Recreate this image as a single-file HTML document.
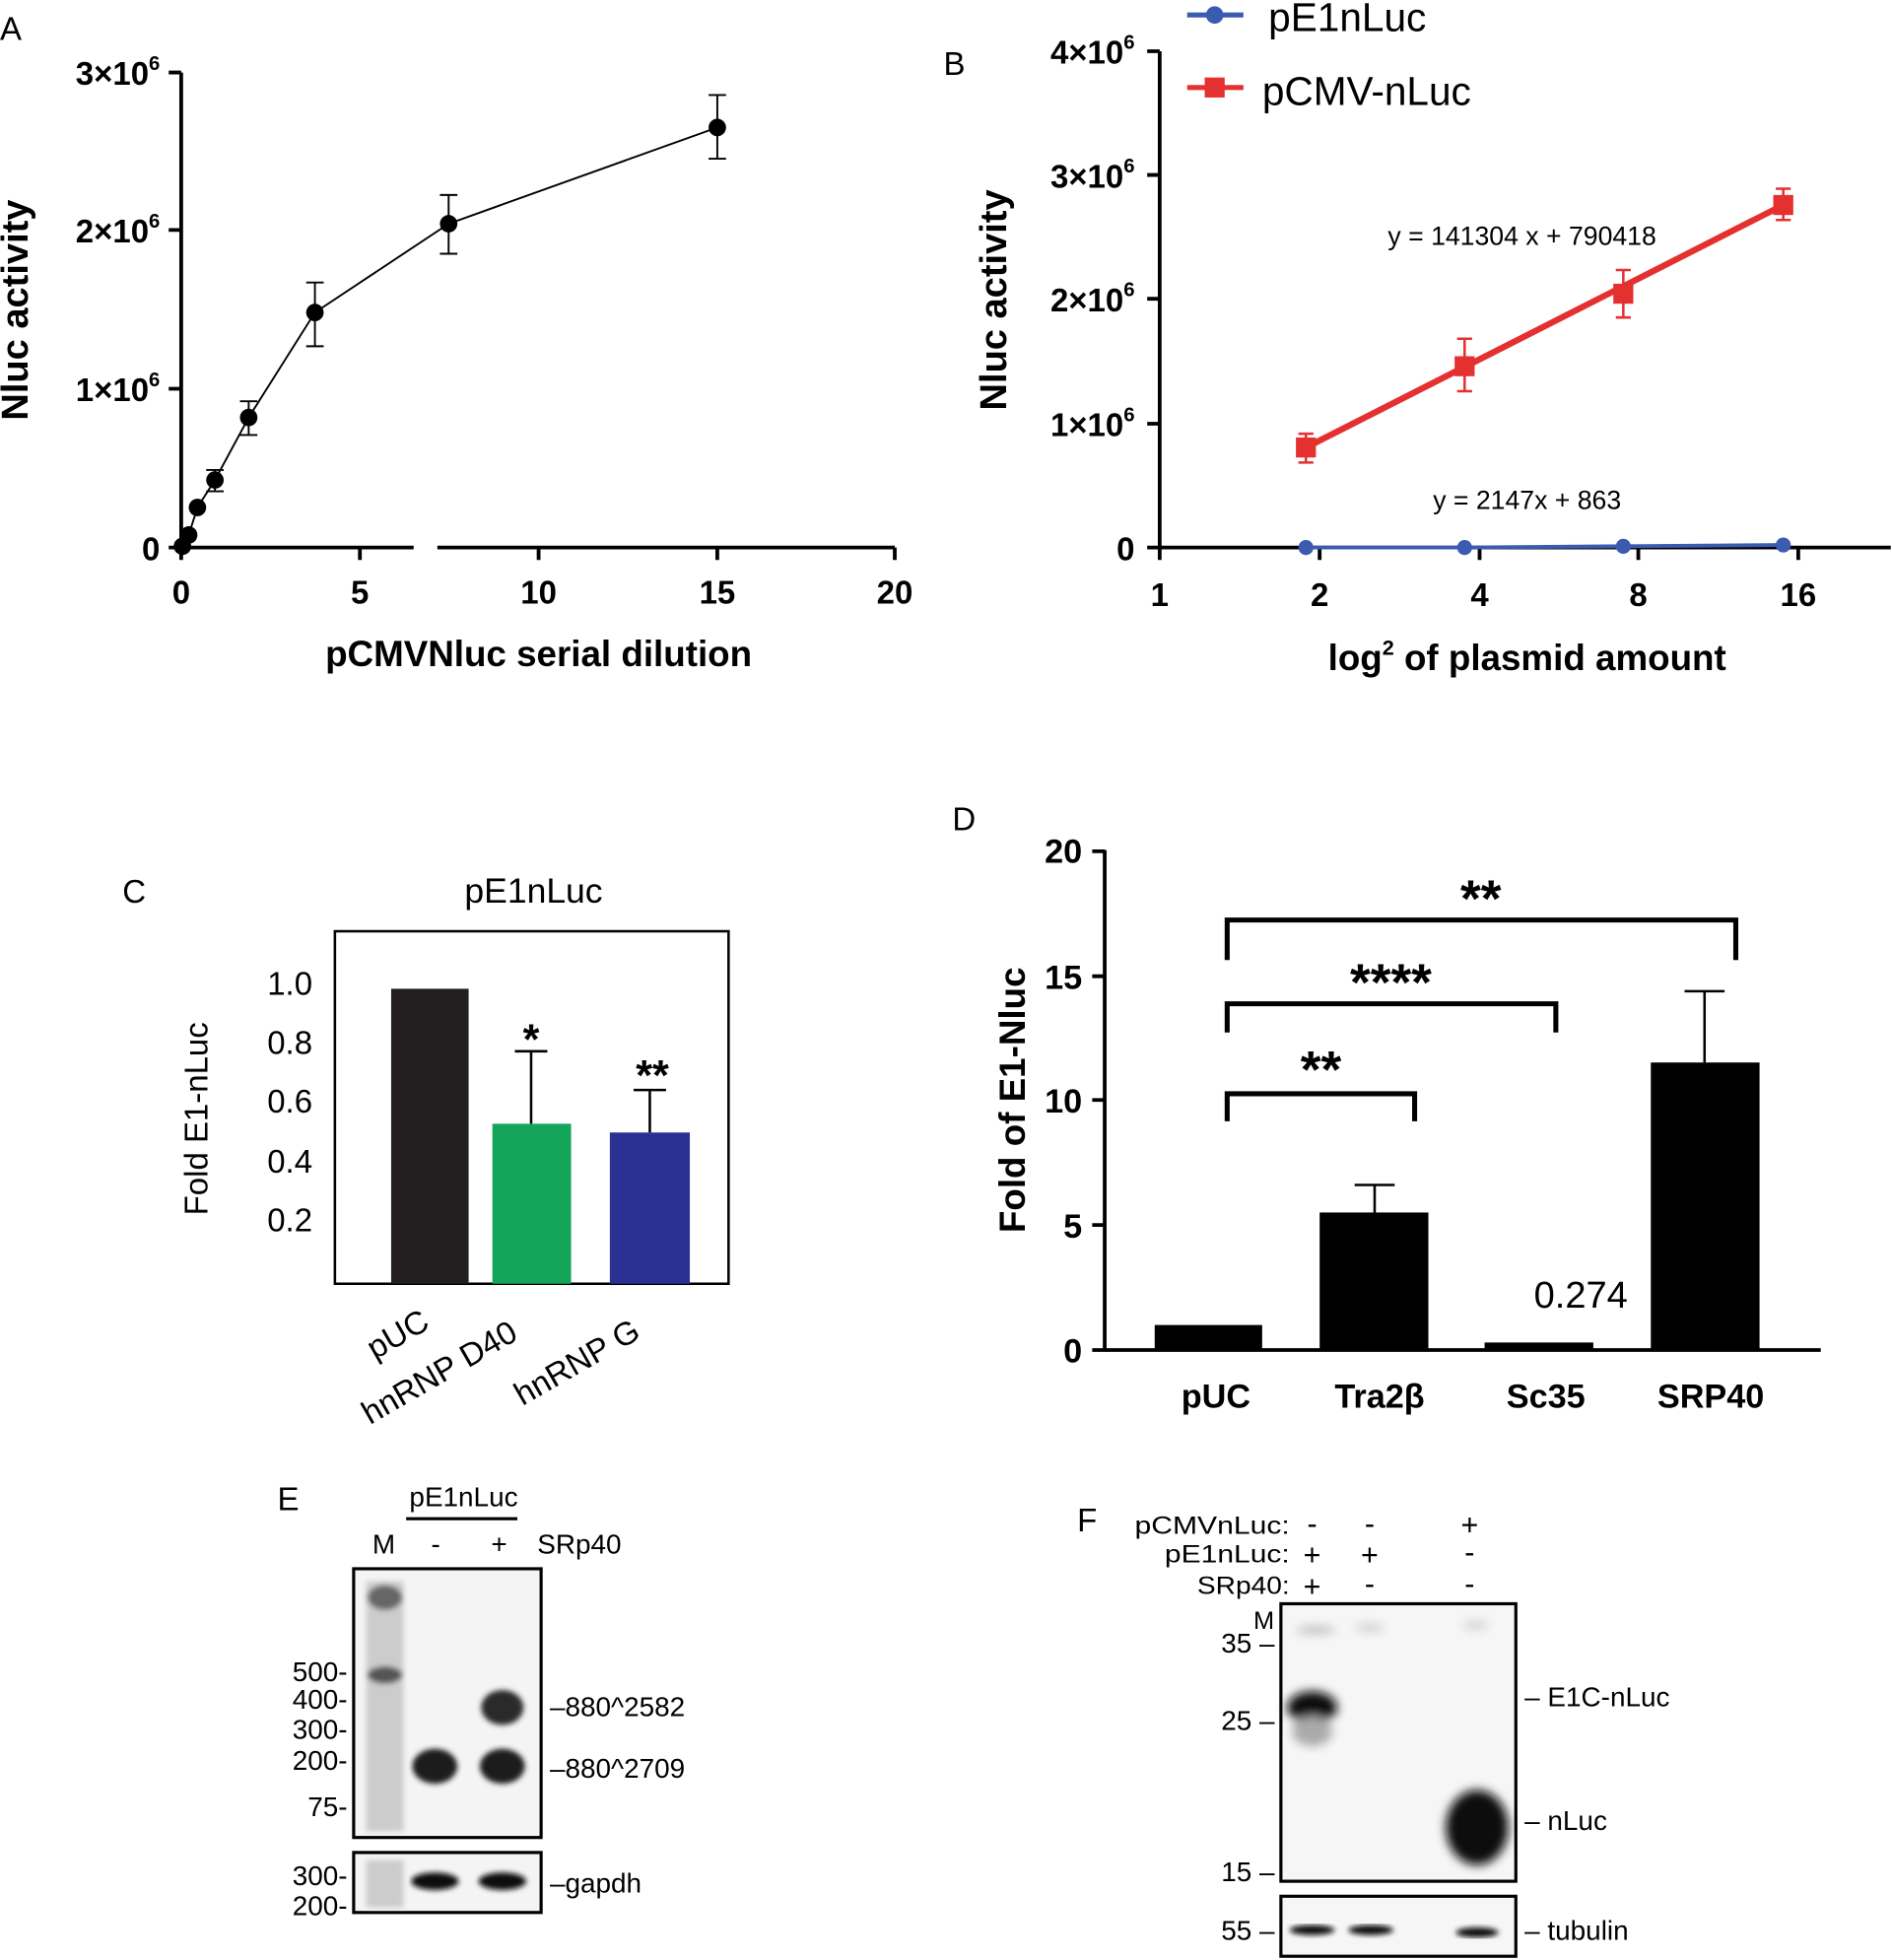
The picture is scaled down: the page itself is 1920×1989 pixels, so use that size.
<!DOCTYPE html>
<html><head><style>html,body{margin:0;padding:0;background:#fff}svg{display:block}</style></head>
<body>
<svg width="1920" height="1989" viewBox="0 0 1514 1568" preserveAspectRatio="none" xmlns="http://www.w3.org/2000/svg" font-family="Liberation Sans, sans-serif">
<defs>
<filter id="b2"><feGaussianBlur stdDeviation="2"/></filter>
<filter id="b4"><feGaussianBlur stdDeviation="4"/></filter>
</defs>
<rect width="1514" height="1568" fill="#fff"/>
<!-- Panel A -->
<text x="0" y="32" font-size="26">A</text>
<g stroke="#000" stroke-width="3" fill="none">
<path d="M145 58V438M145 58h-10M145 184h-10M145 311h-10M145 438h-10"/>
<path d="M145 438H331M350 438H716M145 438v10M288 438v10M431 438v10M574 438v10M716 438v10"/>
</g>
<g font-size="26" font-weight="bold" text-anchor="end">
<text x="128" y="68">3×10<tspan font-size="16" dy="-12">6</tspan></text>
<text x="128" y="194">2×10<tspan font-size="16" dy="-12">6</tspan></text>
<text x="128" y="321">1×10<tspan font-size="16" dy="-12">6</tspan></text>
<text x="128" y="448">0</text>
</g>
<g font-size="26" font-weight="bold" text-anchor="middle">
<text x="145" y="483">0</text><text x="288" y="483">5</text><text x="431" y="483">10</text><text x="574" y="483">15</text><text x="716" y="483">20</text>
<text x="431" y="533" font-size="29">pCMVNluc serial dilution</text>
<text transform="translate(22 248) rotate(-90)" font-size="30">Nluc activity</text>
</g>
<polyline points="146,437 149,432 151,428 158,406 172,384 199,334 252,250 359,179 574,102" fill="none" stroke="#000" stroke-width="1.5"/>
<g stroke="#000" stroke-width="1.5">
<path d="M252 226V277M245 226h14M245 277h14M359 156V203M352 156h14M352 203h14M574 76V127M567 76h14M567 127h14M199 321V348M192 321h14M192 348h14M172 376V393M165 376h14M165 393h14"/>
</g>
<g fill="#000">
<circle cx="146" cy="437" r="7"/><circle cx="151" cy="428" r="7"/><circle cx="158" cy="406" r="7"/><circle cx="172" cy="384" r="7"/><circle cx="199" cy="334" r="7"/><circle cx="252" cy="250" r="7"/><circle cx="359" cy="179" r="7"/><circle cx="574" cy="102" r="7"/>
</g>
<!-- Panel B -->
<text x="755" y="60" font-size="26">B</text>
<line x1="950" y1="12" x2="995" y2="12" stroke="#3a5bb0" stroke-width="4"/><circle cx="972" cy="12" r="7" fill="#3a5bb0"/>
<text x="1015" y="25" font-size="32">pE1nLuc</text>
<line x1="950" y1="70" x2="995" y2="70" stroke="#e53030" stroke-width="4"/><rect x="964" y="62" width="16" height="16" fill="#e53030"/>
<text x="1010" y="84" font-size="32">pCMV-nLuc</text>
<g stroke="#000" stroke-width="3" fill="none">
<path d="M928 41V438M928 41h-10M928 140h-10M928 239h-10M928 339h-10M928 438h-10"/>
<path d="M928 438H1513M928 438v10M1056 438v10M1184 438v10M1311 438v10M1439 438v10"/>
</g>
<g font-size="26" font-weight="bold" text-anchor="end">
<text x="908" y="51">4×10<tspan font-size="16" dy="-12">6</tspan></text>
<text x="908" y="150">3×10<tspan font-size="16" dy="-12">6</tspan></text>
<text x="908" y="249">2×10<tspan font-size="16" dy="-12">6</tspan></text>
<text x="908" y="349">1×10<tspan font-size="16" dy="-12">6</tspan></text>
<text x="908" y="448">0</text>
</g>
<g font-size="26" font-weight="bold" text-anchor="middle">
<text x="928" y="485">1</text><text x="1056" y="485">2</text><text x="1184" y="485">4</text><text x="1311" y="485">8</text><text x="1439" y="485">16</text>
<text x="1222" y="536" font-size="29">log<tspan font-size="17" dy="-12">2</tspan><tspan dy="12"> of plasmid amount</tspan></text>
<text transform="translate(805 240) rotate(-90)" font-size="30">Nluc activity</text>
</g>
<text x="1218" y="196" font-size="21" text-anchor="middle">y = 141304 x + 790418</text>
<text x="1222" y="407" font-size="21" text-anchor="middle">y = 2147x + 863</text>
<line x1="1045" y1="358" x2="1427" y2="164" stroke="#e53030" stroke-width="5"/>
<g stroke="#e53030" stroke-width="2"><path d="M1045 347V370M1039 347h12M1039 370h12M1172 271V313M1166 271h12M1166 313h12M1299 216V254M1293 216h12M1293 254h12M1427 151V176M1421 151h12M1421 176h12"/></g>
<g fill="#e53030"><rect x="1037" y="350" width="16" height="16"/><rect x="1164" y="285" width="16" height="16"/><rect x="1291" y="227" width="16" height="16"/><rect x="1419" y="156" width="16" height="16"/></g>
<polyline points="1045,438 1172,438 1299,437 1427,436" fill="none" stroke="#3a5bb0" stroke-width="3"/>
<g fill="#3a5bb0"><circle cx="1045" cy="438" r="6"/><circle cx="1172" cy="438" r="6"/><circle cx="1299" cy="437" r="6"/><circle cx="1427" cy="436" r="6"/></g>
<!-- Panel C -->
<text x="98" y="722" font-size="26">C</text>
<text x="427" y="722" font-size="28" text-anchor="middle">pE1nLuc</text>
<rect x="268" y="745" width="315" height="282" fill="none" stroke="#000" stroke-width="2"/>
<g font-size="26" text-anchor="end"><text x="250" y="796">1.0</text><text x="250" y="843">0.8</text><text x="250" y="890">0.6</text><text x="250" y="938">0.4</text><text x="250" y="985">0.2</text></g>
<text transform="translate(166 895) rotate(-90)" font-size="26" text-anchor="middle">Fold E1-nLuc</text>
<rect x="313" y="791" width="62" height="236" fill="#231f20"/>
<rect x="394" y="899" width="63" height="128" fill="#14a55a"/>
<rect x="488" y="906" width="64" height="121" fill="#2b3192"/>
<g stroke="#000" stroke-width="2"><path d="M425 899V841M412 841h26M520 906V872M507 872h26"/></g>
<text x="425" y="843" font-size="34" font-weight="bold" text-anchor="middle">*</text>
<text x="522" y="872" font-size="34" font-weight="bold" text-anchor="middle">**</text>
<g font-size="26">
<text transform="translate(300 1088) rotate(-30)">pUC</text>
<text transform="translate(296 1140) rotate(-30)">hnRNP D40</text>
<text transform="translate(418 1125) rotate(-30)">hnRNP G</text>
</g>
<!-- Panel D -->
<text x="762" y="664" font-size="26">D</text>
<g stroke="#000" stroke-width="3" fill="none">
<path d="M884 680V1080H1457M884 681h-10M884 781h-10M884 880h-10M884 980h-10M884 1080h-10"/>
</g>
<g font-size="27" font-weight="bold" text-anchor="end"><text x="866" y="690">20</text><text x="866" y="791">15</text><text x="866" y="890">10</text><text x="866" y="990">5</text><text x="866" y="1090">0</text></g>
<text transform="translate(820 880) rotate(-90)" font-size="29" font-weight="bold" text-anchor="middle">Fold of E1-Nluc</text>
<g fill="#000"><rect x="924" y="1060" width="86" height="20"/><rect x="1056" y="970" width="87" height="110"/><rect x="1188" y="1074" width="87" height="6"/><rect x="1321" y="850" width="87" height="230"/></g>
<g stroke="#000" stroke-width="2"><path d="M1100 970V948M1084 948h32M1364 850V793M1348 793h32"/></g>
<g stroke="#000" stroke-width="4" fill="none"><path d="M982 768V736H1389V768M982 826V803H1245V826M982 897V875H1132V897"/></g>
<g font-size="42" font-weight="bold" text-anchor="middle"><text x="1185" y="733">**</text><text x="1113" y="800">****</text><text x="1057" y="870">**</text></g>
<text x="1265" y="1046" font-size="30" text-anchor="middle">0.274</text>
<g font-size="27" font-weight="bold" text-anchor="middle"><text x="973" y="1126">pUC</text><text x="1104" y="1126">Tra2β</text><text x="1237" y="1126">Sc35</text><text x="1369" y="1126">SRP40</text></g>
<!-- Panel E -->
<text x="222" y="1208" font-size="26">E</text>
<text x="371" y="1205" font-size="22" text-anchor="middle">pE1nLuc</text>
<line x1="325" y1="1215" x2="414" y2="1215" stroke="#000" stroke-width="2.5"/>
<g font-size="22"><text x="298" y="1243">M</text><text x="345" y="1243">-</text><text x="393" y="1243">+</text><text x="430" y="1243">SRp40</text></g>
<rect x="283" y="1255" width="150" height="215" fill="#f4f4f4" stroke="#000" stroke-width="2.5"/>
<g filter="url(#b2)">
<rect x="293" y="1265" width="30" height="200" fill="#ccc"/>
<ellipse cx="308" cy="1278" rx="14" ry="10" fill="#666"/>
<ellipse cx="308" cy="1340" rx="14" ry="7" fill="#555"/>
<ellipse cx="348" cy="1413" rx="18" ry="14" fill="#1a1a1a"/>
<ellipse cx="402" cy="1413" rx="18" ry="14" fill="#1a1a1a"/>
<ellipse cx="402" cy="1366" rx="17" ry="14" fill="#2a2a2a"/>
</g>
<g font-size="22" text-anchor="end"><text x="278" y="1345">500-</text><text x="278" y="1367">400-</text><text x="278" y="1391">300-</text><text x="278" y="1416">200-</text><text x="278" y="1453">75-</text></g>
<g font-size="22"><text x="440" y="1373">–880^2582</text><text x="440" y="1422">–880^2709</text><text x="440" y="1514">–gapdh</text></g>
<rect x="283" y="1482" width="150" height="48" fill="#f4f4f4" stroke="#000" stroke-width="2.5"/>
<g filter="url(#b2)"><rect x="293" y="1488" width="30" height="38" fill="#ccc"/><ellipse cx="348" cy="1505" rx="19" ry="7" fill="#111"/><ellipse cx="402" cy="1505" rx="19" ry="7" fill="#111"/></g>
<g font-size="22" text-anchor="end"><text x="278" y="1508">300-</text><text x="278" y="1532">200-</text></g>
<!-- Panel F -->
<text x="862" y="1225" font-size="26">F</text>
<g font-size="20" text-anchor="end"><text x="1032" y="1227" textLength="124" lengthAdjust="spacingAndGlyphs">pCMVnLuc:</text><text x="1032" y="1250" textLength="100" lengthAdjust="spacingAndGlyphs">pE1nLuc:</text><text x="1032" y="1275" textLength="74" lengthAdjust="spacingAndGlyphs">SRp40:</text></g>
<g font-size="24" text-anchor="middle"><text x="1050" y="1227">-</text><text x="1096" y="1227">-</text><text x="1176" y="1228">+</text>
<text x="1050" y="1252">+</text><text x="1096" y="1252">+</text><text x="1176" y="1250">-</text>
<text x="1050" y="1277">+</text><text x="1096" y="1275">-</text><text x="1176" y="1275">-</text></g>
<text x="1003" y="1303" font-size="20">M</text>
<rect x="1025" y="1283" width="188" height="222" fill="#f6f6f6" stroke="#000" stroke-width="2.5"/>
<g filter="url(#b4)">
<ellipse cx="1050" cy="1366" rx="20" ry="13" fill="#111"/>
<ellipse cx="1050" cy="1385" rx="16" ry="12" fill="#aaa"/>
<ellipse cx="1182" cy="1462" rx="25" ry="30" fill="#0a0a0a"/>
<ellipse cx="1053" cy="1304" rx="16" ry="3" fill="#bbb"/>
<ellipse cx="1096" cy="1302" rx="12" ry="3" fill="#ccc"/>
<ellipse cx="1181" cy="1300" rx="10" ry="3" fill="#ccc"/>
</g>
<g font-size="22" text-anchor="end"><text x="1020" y="1322">35 –</text><text x="1020" y="1384">25 –</text><text x="1020" y="1505">15 –</text><text x="1020" y="1552">55 –</text></g>
<g font-size="22"><text x="1220" y="1365">– E1C-nLuc</text><text x="1220" y="1464">– nLuc</text><text x="1220" y="1552">– tubulin</text></g>
<rect x="1025" y="1517" width="188" height="48" fill="#f6f6f6" stroke="#000" stroke-width="2.5"/>
<g filter="url(#b2)"><ellipse cx="1050" cy="1544" rx="18" ry="4" fill="#111"/><ellipse cx="1097" cy="1544" rx="18" ry="4" fill="#111"/><ellipse cx="1182" cy="1546" rx="17" ry="4" fill="#111"/></g>
</svg>
</body></html>
